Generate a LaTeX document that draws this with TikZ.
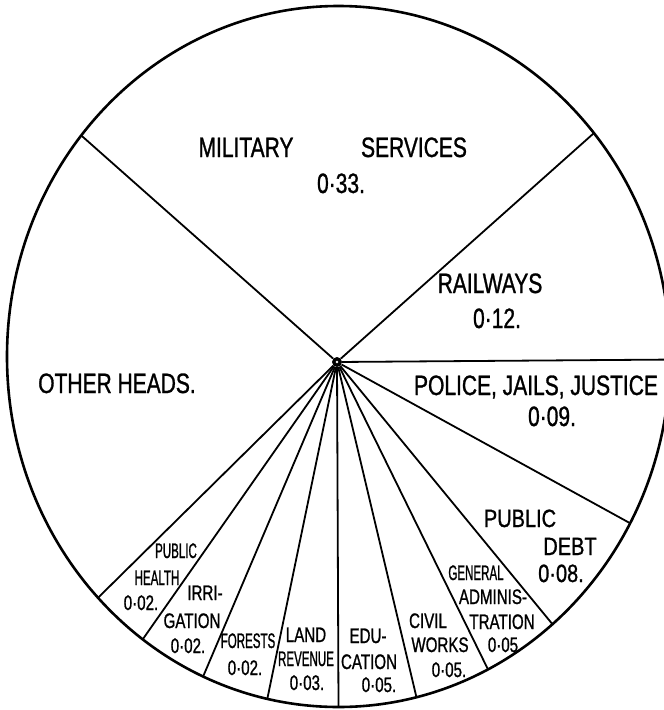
\documentclass[tikz,border=0pt]{standalone}
\usepackage{fontspec}
\usetikzlibrary{calc}
\newfontfamily\piefont{Liberation Sans}[FakeStretch=0.75,FakeBold=1]
\newfontfamily\piefontmid{Liberation Sans}[FakeStretch=0.8,FakeBold=1]
\newfontfamily\piefontnarrow{Liberation Sans}[FakeStretch=0.72,FakeBold=1]
\newfontfamily\piefonttight{Liberation Sans}[FakeStretch=0.55,FakeBold=1]
\tikzset{
	rim/.style={line width=2.6pt},
	spoke/.style={line width=1.8pt},
	bighead/.style={font=\piefont\fontsize{28}{30}\selectfont,inner sep=0pt,anchor=base},
	midhead/.style={font=\piefontmid\fontsize{25}{27}\selectfont,inner sep=0pt,anchor=base},
	smallhead/.style={font=\piefontnarrow\fontsize{21}{23}\selectfont,inner sep=0pt,anchor=base},
	tighthead/.style={font=\piefonttight\fontsize{21}{23}\selectfont,inner sep=0pt,anchor=base}
}
\begin{document}
\begin{tikzpicture}[x=1pt,y=-1pt]
	\useasboundingbox (0,0) rectangle (664,710);
	\coordinate (ctr) at (338.5,356.5);
	\draw[rim] (ctr) ellipse [x radius=331.5,y radius=350.5];
	\foreach \a [count=\i] in {219.1,320.4,0.5,28.4,49.8,63.2,76.4,90,102.4,114.1,126.2,136.5}
		\coordinate (cut\i) at ($(ctr)+(\a:331.5 and 350.5)$);
	\node[circle,fill,inner sep=0pt,minimum size=10pt] (hub) at (337,362) {};
	\foreach \i in {1,...,12}
		\draw[spoke] (hub) -- (cut\i);
	\fill[white] (hub) circle (1.3);
	% large heads
	\node[bighead] (mil1) at (246,157) {MILITARY};
	\node[bighead] (mil2) at (414,157) {SERVICES};
	\node[bighead] (mil3) at (341,193) {0·33.};
	\node[bighead] (rail1) at (490,293) {RAILWAYS};
	\node[bighead] (rail2) at (497,328) {0·12.};
	\node[bighead] (pol1) at (536,395) {POLICE, JAILS, JUSTICE};
	\node[bighead] (pol2) at (552,426) {0·09.};
	\node[bighead] (oth) at (117,393) {OTHER HEADS.};
	\foreach \n/\x/\y/\txt in {pubd1/520/527/PUBLIC,pubd2/570/555/DEBT,pubd3/561/582/0·08.}
		\node[midhead] (\n) at (\x,\y) {\txt};
	% small heads
	\foreach \n/\x/\y/\txt in {gen2/493/604/ADMINIS-,gen3/502/629/TRATION,gen4/503/652/0·05,
		civ1/428/628/CIVIL,civ2/440/652/WORKS,civ3/449/677/0·05.,
		edu1/368/643/EDU-,edu2/369/669/CATION,edu3/379/692/0·05.,
		land1/306/642/LAND,land3/307/690/0·03.,
		for2/245/675/0·02.,
		irr1/205/600/IRRI-,irr2/192/628/GATION,irr3/188/653/0·02.,
		hlth3/141/610/0·02.}
		\node[smallhead] (\n) at (\x,\y) {\txt};
	\foreach \n/\x/\y/\txt in {gen1/476/580/GENERAL,land2/306/666/REVENUE,for1/248/648/FORESTS,
		hlth1/176/558/PUBLIC,hlth2/157/585/HEALTH}
		\node[tighthead] (\n) at (\x,\y) {\txt};
\end{tikzpicture}
\end{document}
